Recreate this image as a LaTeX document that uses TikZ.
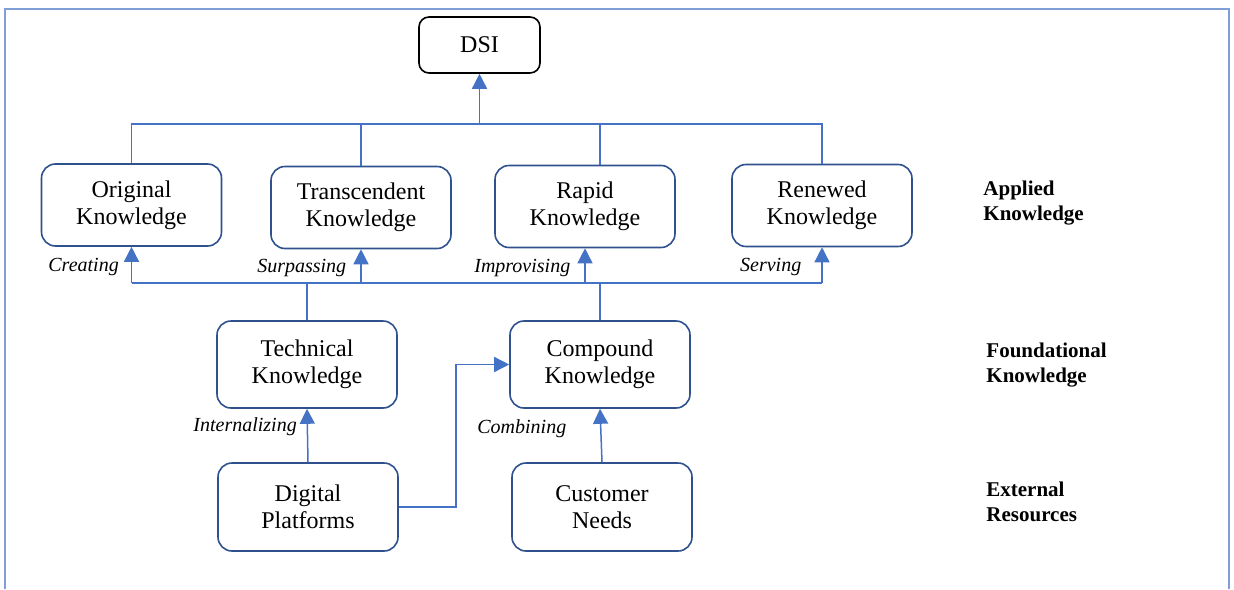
\documentclass[tikz,border=0pt]{standalone}
\usepackage{fontspec}
\setmainfont{Liberation Serif}
\usetikzlibrary{arrows.meta,positioning,calc}
\definecolor{linkblue}{HTML}{4472C4}
\definecolor{boxblue}{HTML}{2F528F}
\definecolor{frameblue}{HTML}{7F9FD6}

\begin{document}
\begin{tikzpicture}[x=0.5pt,y=-0.5pt,
  kbox/.style={draw=boxblue, line width=0.8pt, rounded corners=7pt, minimum width=90pt, minimum height=41pt, align=center, font=\fontsize{12}{13.5}\selectfont},
  link/.style={draw=linkblue, line width=0.75pt},
  arrow/.style={link, -{Triangle[width=7.5pt,length=7.5pt]}},
  lbl/.style={font=\fontsize{10}{12}\selectfont\itshape, inner sep=1pt},
  level/.style={font=\fontsize{10.5}{12.5}\selectfont\bfseries, align=left, anchor=west, inner sep=0pt}]
	\useasboundingbox (0,0) rectangle (1234,589);
	\draw[frameblue, line width=0.6pt] (5,589) -- (5,9) -- (1229,9) -- (1229,589);

	% top
	\node[draw=black, line width=0.8pt, rounded corners=5pt, minimum width=60.5pt, minimum height=28pt, font=\fontsize{12}{13.5}\selectfont] (dsi) at (479.5,45) {DSI};

	% applied knowledge
	\node[kbox] (orig) at (131.5,205) {Original\\Knowledge};
	\node[kbox] (trans) at (361,207.5) {Transcendent\\Knowledge};
	\node[kbox] (rapid) at (585,206.5) {Rapid\\Knowledge};
	\node[kbox] (renew) at (822,205.5) {Renewed\\Knowledge};

	% foundational knowledge
	\node[kbox, minimum height=43.5pt] (tech) at (307,364.5) {Technical\\Knowledge};
	\node[kbox, minimum height=43.5pt] (comp) at (600,364.5) {Compound\\Knowledge};

	% external resources
	\node[kbox, minimum height=44pt] (digi) at (308,507) {Digital\\Platforms};
	\node[kbox, minimum height=44pt] (cust) at (602,507) {Customer\\Needs};

	\node[level] (applied) at (983,203) {Applied\\Knowledge};
	\node[level] (found) at (986,365) {Foundational\\Knowledge};
	\node[level] (extern) at (986,502) {External\\Resources};

	\coordinate (topbus) at (479.5,124);
	\coordinate (lowbus) at (479.5,283);
	\coordinate (rapidtop) at ([xshift=7.5pt]rapid.north);

	% upper bus to DSI
	\draw[link] (orig.north) -- (orig.north |- topbus) -- (renew.north |- topbus) -- (renew.north);
	\draw[link] (trans.north) -- (trans.north |- topbus);
	\draw[link] (rapidtop) -- (rapidtop |- topbus);
	\draw[arrow] (dsi.south |- topbus) -- (dsi.south);

	% lower bus
	\draw[link] (orig.south |- lowbus) -- (renew.south |- lowbus);
	\draw[link] (tech.north) -- (tech.north |- lowbus);
	\draw[link] (comp.north) -- (comp.north |- lowbus);
	\draw[arrow] (orig.south |- lowbus) -- node[lbl, left=5pt, yshift=-1pt] {Creating} (orig.south);
	\draw[arrow] (trans.south |- lowbus) -- node[lbl, left=6pt, yshift=-1pt] {Surpassing} (trans.south);
	\draw[arrow] (rapid.south |- lowbus) -- node[lbl, left=6pt, yshift=-1pt] {Improvising} (rapid.south);
	\draw[arrow] (renew.south |- lowbus) -- node[lbl, left=9pt, yshift=-1pt] {Serving} (renew.south);

	% resources to foundations
	\draw[arrow] (digi.north) -- node[lbl, left=4pt, yshift=4.5pt] {Internalizing} (tech.south);
	\draw[arrow] (cust.north) -- node[lbl, left=16pt, yshift=3.5pt] {Combining} (comp.south);
	\draw[arrow] (digi.east) -- ++(28.5pt,0) |- (comp.west);
\end{tikzpicture}
\end{document}
